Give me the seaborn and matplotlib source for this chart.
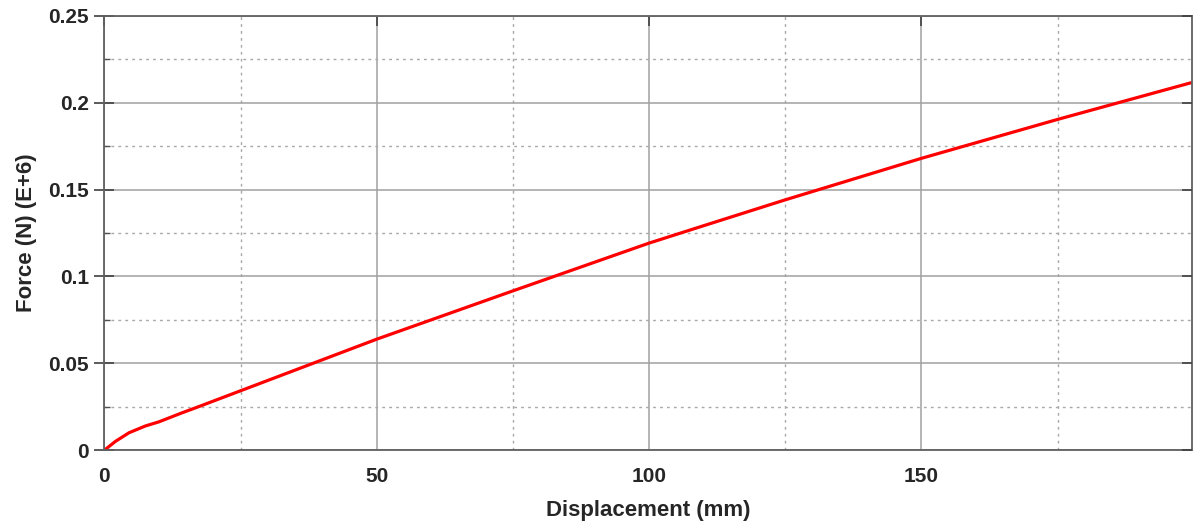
"""
Force-displacement curve
"""

import matplotlib
matplotlib.use('Agg')
import matplotlib.pyplot as plt
from matplotlib.ticker import MultipleLocator
import seaborn as sns
import pandas as pd

# values
displacement = [0, 2, 4.5, 7.5, 10, 14, 17.6, 25, 50, 75, 100,
                109.6, 125, 150, 175, 199.5]
force = [0, 0.005, 0.010, 0.0139, 0.0163, 0.0212, 0.0254, 0.0342, 0.0639,
         0.0917, 0.1192, 0.1288, 0.1441, 0.168, 0.1904, 0.2115]

y_ticks = [0, 0.05, 0.1, 0.15, 0.2, 0.25]
y_tick_labels = ['0', '0.05', '0.1', '0.15', '0.2', '0.25']
x_label = 'Displacement (mm)'
y_label = 'Force (N) (E+6)'

sns.set_theme(style='white')
plt.rcParams['font.family'] = ['Liberation Sans', 'DejaVu Sans']

df = pd.DataFrame({'x': displacement, 'y': force})

fig = plt.figure(figsize=(12, 5.29), dpi=100)
ax = fig.add_axes([0.087, 0.149, 0.906, 0.821])

sns.lineplot(data=df, x='x', y='y', color='#ff0000', linewidth=2.3, ax=ax)

ax.set_xlim(0, 199.6)
ax.set_ylim(0, 0.25)
ax.xaxis.set_major_locator(MultipleLocator(50))
ax.xaxis.set_minor_locator(MultipleLocator(25))
ax.set_yticks(y_ticks)
ax.set_yticklabels(y_tick_labels)
ax.yaxis.set_minor_locator(MultipleLocator(0.025))

# grid: solid major, dotted minor
ax.grid(True, which='major', color='#a0a0a0', linestyle='-', linewidth=1.1)
ax.grid(True, which='minor', color='#a8a8a8', linestyle=(0, (2, 3)), linewidth=1.0)
ax.set_axisbelow(True)

for side in ['left', 'right', 'top', 'bottom']:
    ax.spines[side].set_color('#606060')
    ax.spines[side].set_linewidth(1.3)

ax.tick_params(axis='x', which='major', direction='in', length=7, width=1.2,
               color='#404040', top=True, labelsize=15, pad=12)
ax.tick_params(axis='y', which='major', direction='inout', length=14, width=1.2,
               color='#404040', labelsize=15, pad=4)
ax.tick_params(axis='y', which='minor', direction='in', length=4, width=1.0,
               color='#505050')
ax.tick_params(axis='x', which='minor', length=0)
for lab in ax.get_xticklabels() + ax.get_yticklabels():
    lab.set_fontweight('bold')

# right side ticks point inwards only
ax_r = ax.twinx()
ax_r.set_ylim(ax.get_ylim())
ax_r.set_yticks(y_ticks)
ax_r.tick_params(axis='y', direction='in', length=7, width=1.2, color='#404040',
                 labelright=False)
ax_r.grid(False)
for side in ['left', 'right', 'top', 'bottom']:
    ax_r.spines[side].set_visible(False)

ax.set_xlabel(x_label, fontsize=16, fontweight='bold', labelpad=10)
ax.set_ylabel(y_label, fontsize=16, fontweight='bold', labelpad=8)

plt.savefig('out.png', dpi=100)
